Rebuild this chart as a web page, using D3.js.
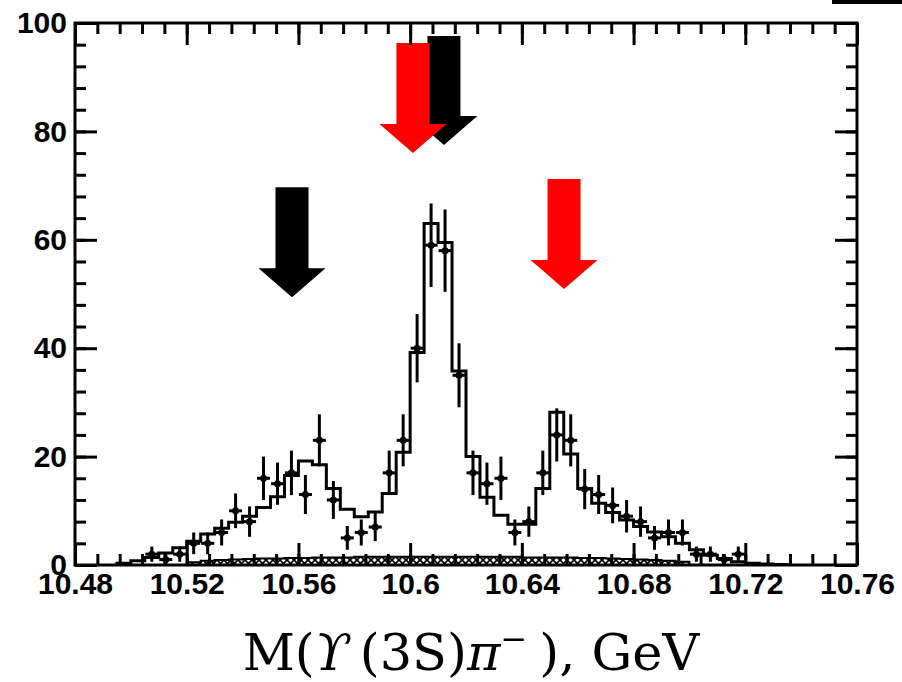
<!DOCTYPE html>
<html>
<head>
<meta charset="utf-8">
<script src="https://cdn.jsdelivr.net/npm/d3@7/dist/d3.min.js"></script>
<style>
  body { margin: 0; background: #fff; }
  svg { display: block; }
</style>
</head>
<body>
<div id="chart"></div>
<script>
// tick labels
const xTickValues = [10.48, 10.52, 10.56, 10.6, 10.64, 10.68, 10.72, 10.76];
const xTickLabels = ["10.48", "10.52", "10.56", "10.6", "10.64", "10.68", "10.72", "10.76"];
const yTickValues = [0, 20, 40, 60, 80, 100];
const yTickLabels = ["0", "20", "40", "60", "80", "100"];

// data points (bin centres, counts, errors)
const dataMass = [10.5075, 10.5125, 10.5175, 10.5225, 10.5275, 10.5325, 10.5375, 10.5425, 10.5475,
  10.5525, 10.5575, 10.5625, 10.5675, 10.5725, 10.5775, 10.5825, 10.5875, 10.5925, 10.5975,
  10.6025, 10.6075, 10.6125, 10.6175, 10.6225, 10.6275, 10.6325, 10.6375, 10.6425, 10.6475,
  10.6525, 10.6575, 10.6625, 10.6675, 10.6725, 10.6775, 10.6825, 10.6875, 10.6925, 10.6975,
  10.7025, 10.7075, 10.7125, 10.7175];
const dataCounts = [2, 1, 2, 4, 4, 6, 10, 8, 16, 15, 17, 13, 23, 12, 5, 6, 7, 17, 23,
  40, 59, 58, 35, 17, 15, 16, 6, 8, 17, 24, 23, 14, 13, 11, 9, 8, 5, 6, 6, 2, 2, 1, 2];
const dataErrors = [1.4, 1.0, 1.4, 2.0, 2.0, 2.4, 3.2, 2.8, 4.0, 3.9, 4.1, 3.6, 4.8, 3.5, 2.2, 2.4, 2.6, 4.1, 4.8,
  6.3, 7.7, 7.6, 5.9, 4.1, 3.9, 4.0, 2.4, 2.8, 4.1, 4.9, 4.8, 3.7, 3.6, 3.3, 3.0, 2.8, 2.2, 2.4, 2.4, 1.4, 1.4, 1.0, 1.4];

// fit histogram, bins of 5 MeV starting at 10.495
const histStart = 10.495;
const binWidth = 0.005;
const histValues = [0.3, 0.8, 1.4, 2.2, 3.2, 4.4, 5.7, 6.8, 7.9, 9.0, 10.6, 12.6, 16.5, 19.2, 18.5,
  14.1, 10.3, 8.9, 9.8, 13.2, 20.8, 39.2, 63.0, 59.5, 35.8, 20.0, 12.5, 9.2, 7.5, 7.5, 14.1, 28.2,
  20.5, 14.1, 11.4, 9.7, 8.3, 7.1, 6.1, 5.2, 4.0, 2.8, 1.8, 1.2, 0.6, 0.3, 0.2, 0.1];

// background (hatched), bins starting at 10.52
const bgStart = 10.52;
const bgValues = [0.5, 0.8, 0.9, 1.0, 1.1, 1.2, 1.2, 1.3, 1.3, 1.4, 1.4, 1.4, 1.5, 1.5, 1.5, 1.5,
  1.5, 1.5, 1.5, 1.5, 1.5, 1.5, 1.5, 1.5, 1.4, 1.4, 1.4, 1.4, 1.3, 1.3, 1.2, 1.1, 1.0, 0.9, 0.8, 0.6];

// arrows
const arrowMass = [10.5577, 10.6121, 10.6010, 10.6551];
const arrowTop = [69.7, 97.6, 96.3, 71.2];
const arrowTip = [49.4, 77.5, 76.0, 50.9];
const arrowColor = ["#000000", "#000000", "#ff0000", "#ff0000"];

const width = 902, height = 682;
const margin = { left: 75, right: 45, top: 23, bottom: 117 };

const svg = d3.select("#chart").append("svg")
  .attr("width", width)
  .attr("height", height);

const x = d3.scaleLinear().domain([10.48, 10.76]).range([margin.left, width - margin.right]);
const y = d3.scaleLinear().domain([0, 100]).range([height - margin.bottom, margin.top]);

// hatch pattern for background
const defs = svg.append("defs");
const pat = defs.append("pattern")
  .attr("id", "hatch")
  .attr("patternUnits", "userSpaceOnUse")
  .attr("width", 7)
  .attr("height", 7);
pat.append("rect").attr("width", 7).attr("height", 7).attr("fill", "#fff");
pat.append("path")
  .attr("d", "M0,0L7,7M7,0L0,7")
  .attr("stroke", "#000")
  .attr("stroke-width", 1.8);

// background band
const bgPts = bgValues.map((v, i) => [bgStart + i * binWidth, v]);
bgPts.push([bgStart + bgValues.length * binWidth, bgValues[bgValues.length - 1]]);
svg.append("path")
  .datum(bgPts)
  .attr("d", d3.area().x(d => x(d[0])).y0(y(0)).y1(d => y(d[1])).curve(d3.curveStepAfter))
  .attr("fill", "url(#hatch)")
  .attr("stroke", "#000")
  .attr("stroke-width", 2);

// fit histogram
const histPts = [[histStart, 0]];
histValues.forEach((v, i) => histPts.push([histStart + i * binWidth, v]));
const histEnd = histStart + histValues.length * binWidth;
histPts.push([histEnd, histValues[histValues.length - 1]]);
histPts.push([histEnd, 0]);
svg.append("path")
  .datum(histPts)
  .attr("d", d3.line().x(d => x(d[0])).y(d => y(d[1])).curve(d3.curveStepAfter))
  .attr("fill", "none")
  .attr("stroke", "#000")
  .attr("stroke-width", 3);

// data points with error bars
const pts = svg.append("g");
dataMass.forEach((m, i) => {
  const cx = x(m), cy = y(dataCounts[i]);
  pts.append("line")
    .attr("x1", cx).attr("x2", cx)
    .attr("y1", y(dataCounts[i] - dataErrors[i]))
    .attr("y2", y(dataCounts[i] + dataErrors[i]))
    .attr("stroke", "#000").attr("stroke-width", 3);
  pts.append("line")
    .attr("x1", cx - 6.5).attr("x2", cx + 6.5)
    .attr("y1", cy).attr("y2", cy)
    .attr("stroke", "#000").attr("stroke-width", 3);
  pts.append("circle")
    .attr("cx", cx).attr("cy", cy).attr("r", 3.5)
    .attr("fill", "#000");
});

// arrows
arrowMass.forEach((m, i) => {
  const cx = x(m), yt = y(arrowTop[i]), yp = y(arrowTip[i]);
  const yb = yp - 29;
  svg.append("path")
    .attr("d", `M${cx - 16.5},${yt}L${cx + 16.5},${yt}L${cx + 16.5},${yb}L${cx + 33.5},${yb}` +
      `L${cx},${yp}L${cx - 33.5},${yb}L${cx - 16.5},${yb}Z`)
    .attr("fill", arrowColor[i]);
});

// axes: ticks on all four sides, pointing inward
const xMinor = d3.range(0, 36).map(i => 10.48 + i * 0.008);
const yMinor = d3.range(0, 26).map(i => i * 4);

function styleAxis(g) {
  g.select(".domain").remove();
  g.selectAll("line").attr("stroke", "#000").attr("stroke-width", 3);
  g.selectAll("text")
    .attr("fill", "#000")
    .style("font-family", "'Liberation Sans', Arial, sans-serif")
    .style("font-weight", "bold")
    .style("font-size", "30px");
}

const yb0 = y(0), yt0 = y(100), xl0 = x(10.48), xr0 = x(10.76);

svg.append("g").attr("transform", `translate(0,${yb0})`)
  .call(d3.axisBottom(x).tickValues(xMinor).tickSize(-11).tickFormat(""))
  .call(styleAxis);
svg.append("g").attr("transform", `translate(0,${yb0})`)
  .call(d3.axisBottom(x).tickValues(xTickValues).tickSize(-22).tickPadding(8)
    .tickFormat((d, i) => xTickLabels[i]))
  .call(styleAxis);
svg.append("g").attr("transform", `translate(0,${yt0})`)
  .call(d3.axisTop(x).tickValues(xMinor).tickSize(-11).tickFormat(""))
  .call(styleAxis);
svg.append("g").attr("transform", `translate(0,${yt0})`)
  .call(d3.axisTop(x).tickValues(xTickValues).tickSize(-22).tickFormat(""))
  .call(styleAxis);

svg.append("g").attr("transform", `translate(${xl0},0)`)
  .call(d3.axisLeft(y).tickValues(yMinor).tickSize(-11).tickFormat(""))
  .call(styleAxis);
svg.append("g").attr("transform", `translate(${xl0},0)`)
  .call(d3.axisLeft(y).tickValues(yTickValues).tickSize(-22).tickPadding(8)
    .tickFormat((d, i) => yTickLabels[i]))
  .call(styleAxis);
svg.append("g").attr("transform", `translate(${xr0},0)`)
  .call(d3.axisRight(y).tickValues(yMinor).tickSize(-11).tickFormat(""))
  .call(styleAxis);
svg.append("g").attr("transform", `translate(${xr0},0)`)
  .call(d3.axisRight(y).tickValues(yTickValues).tickSize(-22).tickFormat(""))
  .call(styleAxis);

// frame
svg.append("rect")
  .attr("x", xl0).attr("y", yt0)
  .attr("width", xr0 - xl0).attr("height", yb0 - yt0)
  .attr("fill", "none")
  .attr("stroke", "#000")
  .attr("stroke-width", 3);

// stray legend fragment at top right
svg.append("rect")
  .attr("x", 832).attr("y", 0)
  .attr("width", 70).attr("height", 4)
  .attr("fill", "#000");

// x axis title
const title = svg.append("text")
  .attr("x", 471)
  .attr("y", 670)
  .attr("text-anchor", "middle")
  .style("font-family", "'DejaVu Serif', serif")
  .style("font-size", "51px")
  .attr("fill", "#000");
title.append("tspan").text("M(");
title.append("tspan").style("font-style", "italic").text("ϒ");
title.append("tspan").attr("dx", 10).text("(3S)");
title.append("tspan").style("font-style", "italic").text("π");
title.append("tspan").attr("dy", -20).style("font-size", "32px").text("−");
title.append("tspan").attr("dy", 20).attr("dx", 12).text("), GeV");
</script>
</body>
</html>
